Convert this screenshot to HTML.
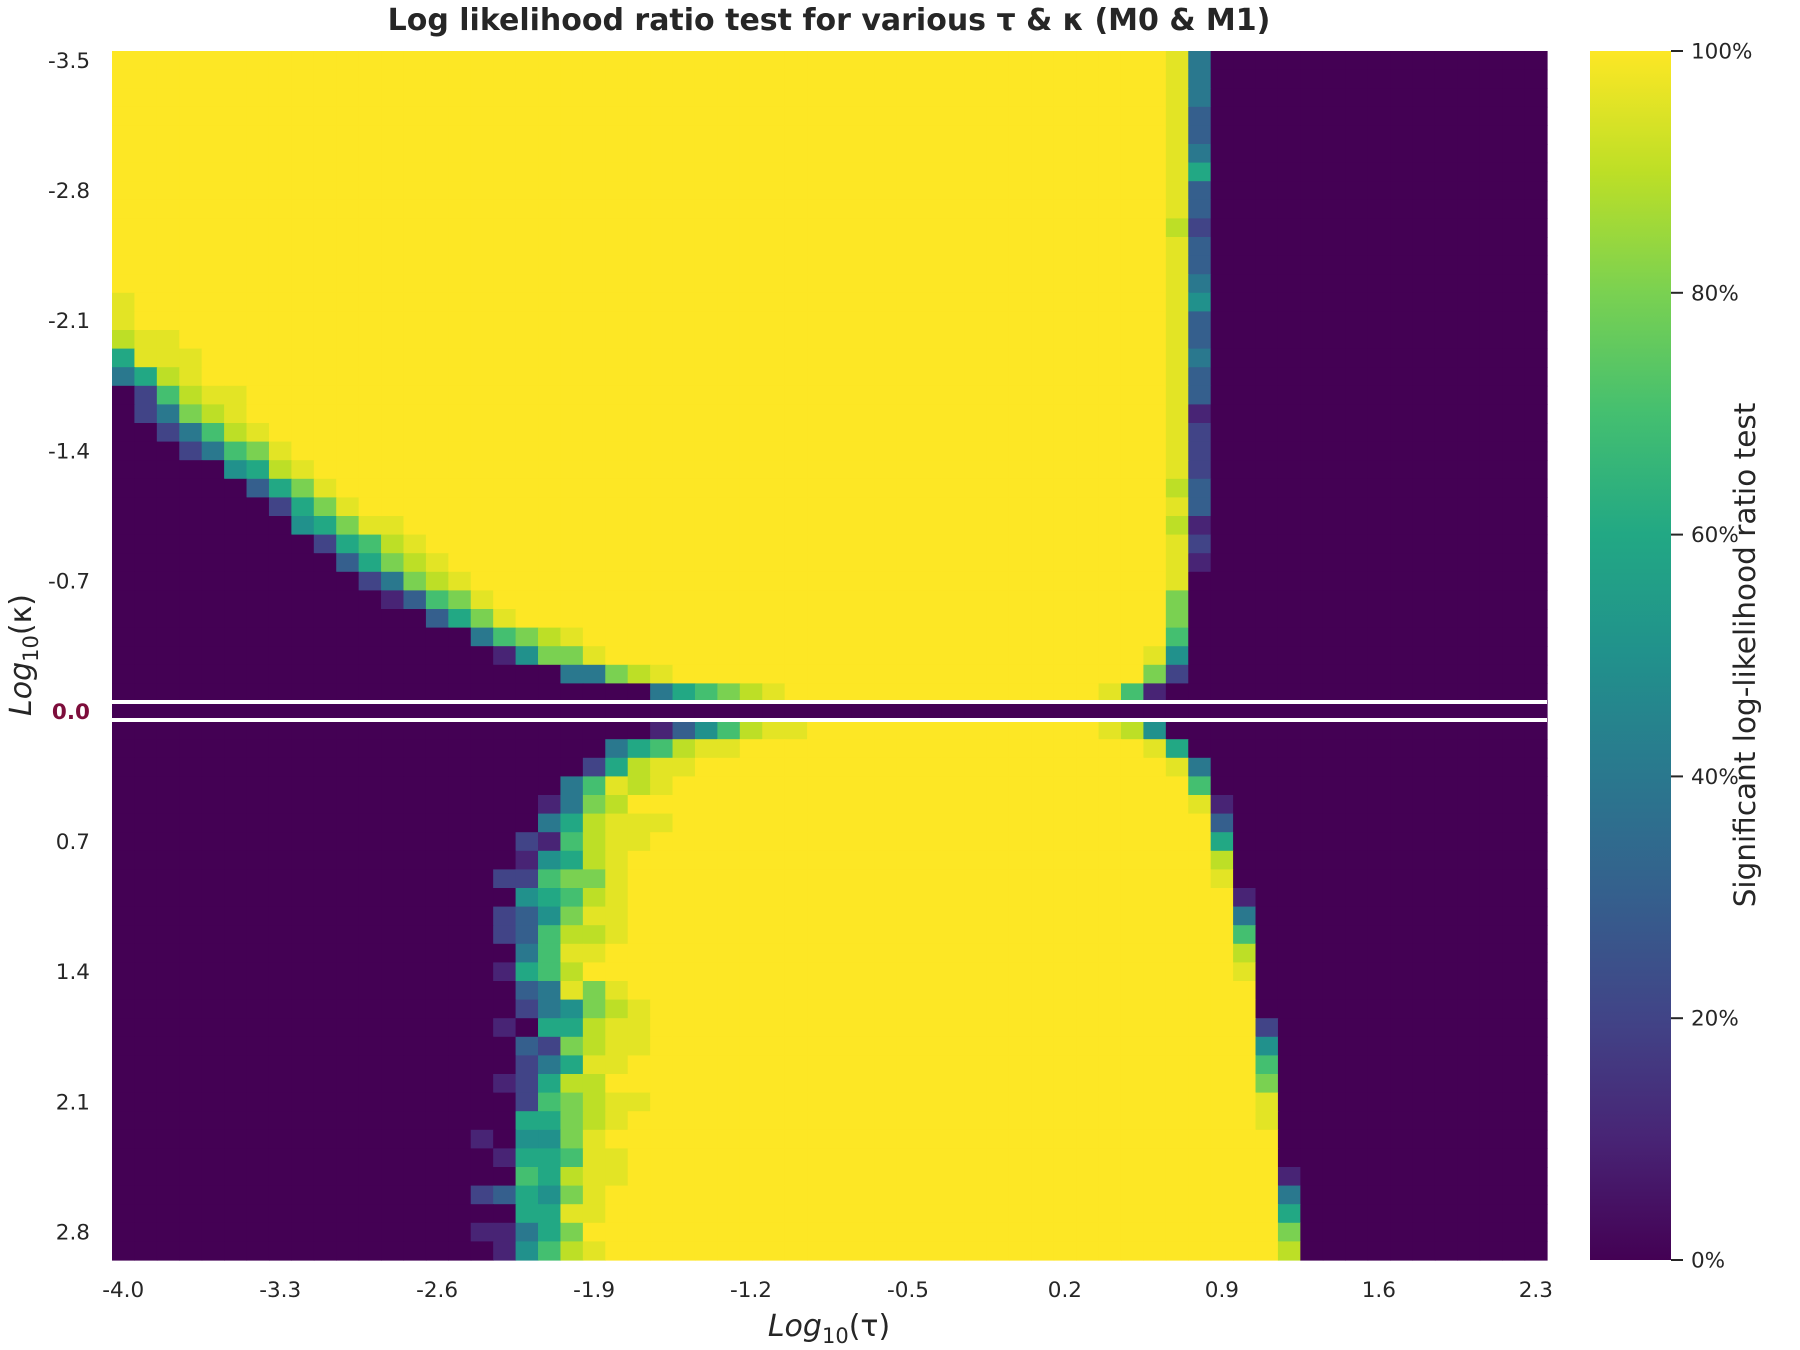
<!DOCTYPE html>
<html><head><meta charset="utf-8">
<style>
html,body{margin:0;padding:0;background:#fff;}
svg{display:block;font-family:"DejaVu Sans","Liberation Sans",sans-serif;}
</style></head>
<body>
<svg id="chart" width="1800" height="1350" viewBox="0 0 1800 1350" xmlns="http://www.w3.org/2000/svg">
<defs>
<linearGradient id="vir" x1="0" y1="1" x2="0" y2="0">
<stop offset="0" stop-color="#440154"/><stop offset="0.1" stop-color="#482475"/>
<stop offset="0.2" stop-color="#414487"/><stop offset="0.3" stop-color="#355f8d"/>
<stop offset="0.4" stop-color="#2a788e"/><stop offset="0.5" stop-color="#21918c"/>
<stop offset="0.6" stop-color="#22a884"/><stop offset="0.7" stop-color="#44bf70"/>
<stop offset="0.8" stop-color="#7ad151"/><stop offset="0.9" stop-color="#bddf26"/>
<stop offset="1" stop-color="#fde725"/>
</linearGradient>
</defs>
<text x="829" y="30" text-anchor="middle" font-size="30" font-weight="bold" fill="#262626">Log likelihood ratio test for various τ &amp; κ (M0 &amp; M1)</text>
<g id="cells"></g>
<rect x="112" y="700" width="1435" height="4" fill="#fff"/>
<rect x="112" y="718" width="1435" height="4" fill="#fff"/>
<g id="xticks"></g>
<g id="yticks"></g>
<text x="829" y="1336" text-anchor="middle" font-size="30" fill="#262626"><tspan font-style="italic">Log</tspan><tspan font-size="21" dy="7">10</tspan><tspan dy="-7">(τ)</tspan></text>
<text transform="translate(31,655) rotate(-90)" text-anchor="middle" font-size="30" fill="#262626"><tspan font-style="italic">Log</tspan><tspan font-size="21" dy="7">10</tspan><tspan dy="-7">(κ)</tspan></text>
<rect x="1590" y="51" width="81" height="1209" fill="url(#vir)"/>
<g id="cticks"></g>
<text transform="translate(1755,655) rotate(-90)" text-anchor="middle" font-size="29.5" fill="#262626">Significant log-likelihood ratio test</text>
</svg>
<script>
// Row data: tokens "c" or "c:N" (repeat). '0'..'9' = tenths, 'W' ~ 96%, 'X' = 100%.
const xTickLabels = ["-4.0","-3.3","-2.6","-1.9","-1.2","-0.5","0.2","0.9","1.6","2.3"];
const yTickLabels = ["-3.5","-2.8","-2.1","-1.4","-0.7","0.0","0.7","1.4","2.1","2.8"];
const cbTickLabels = ["0%","20%","40%","60%","80%","100%"];
const cbTickValues = [0,0.2,0.4,0.6,0.8,1.0];
const rows = [
"X:47 W 4 0:15","X:47 W 4 0:15","X:47 W 4 0:15","X:47 W 3 0:15","X:47 W 3 0:15",
"X:47 W 4 0:15","X:47 W 6 0:15","X:47 W 3 0:15","X:47 W 3 0:15","X:47 9 2 0:15",
"X:47 W 3 0:15","X:47 W 3 0:15","X:47 W 4 0:15",
"W X:46 W 5 0:15",
"W X:46 W 3 0:15",
"9 W W X:44 W 3 0:15",
"6 W:3 X:43 W 4 0:15",
"4 6 9 W X:43 W 3 0:15",
"0 2 7 9 W W X:41 W 3 0:15",
"0 2 4 8 9 W X:41 W 1 0:15",
"0:2 2 4 7 9 W X:40 W 2 0:15",
"0:3 2 4 7 8 W X:39 W 2 0:15",
"0:5 5 6 9 W X:38 W 2 0:15",
"0:6 3 6 8 W X:37 9 3 0:15",
"0:7 2 6 8 W X:36 W 3 0:15",
"0:8 5 6 8 W W X:34 9 1 0:15",
"0:9 2 6 7 9 W X:33 W 2 0:15",
"0:10 3 6 8 9 W X:32 W 1 0:15",
"0:11 2 4 8 9 W X:31 W 0 0:15",
"0:12 1 3 7 8 W X:30 8 0 0:15",
"0:14 3 6 8 W X:29 8 0:16",
"0:16 4 7 8 9 W X:26 7 0:16",
"0:17 1 5 8 8 W X:24 W 5 0:16",
"0:20 4 4 8 9 W X:21 8 2 0:16",
"0:24 4 6 7 8 9 W X:14 W 7 1 0:17",
"0:64",
"0:24 1 3 5 7 9 W W X:13 W 9 5 0:17",
"0:22 4 6 7 9 W W X:18 W 6 0:16",
"0:21 2 6 9 W W X:21 W 4 0:15",
"0:20 4 7 W 9 W X:23 7 0:15",
"0:19 1 4 8 9 X:25 W 1 0:14",
"0:19 4 6 9 W W W X:24 3 0:14",
"0:18 2 1 7 9 W W X:25 6 0:14",
"0:18 1 5 6 9 W X:26 9 0:14",
"0:17 2 2 7 8 8 W X:26 W 0:14",
"0:18 5 6 7 9 W X:27 1 0:13",
"0:17 2 3 5 8 W W X:27 4 0:13",
"0:17 2 3 7 9 9 W X:27 7 0:13",
"0:18 4 7 W W X:28 9 0:13",
"0:17 1 6 7 9 X:29 W 0:13",
"0:18 3 4 W 8 W X:28 0:13",
"0:18 2 4 5 8 9 W X:27 0:13",
"0:17 1 0 6 6 9 W W X:27 2 0:12",
"0:18 3 2 8 9 W W X:27 5 0:12",
"0:18 2 4 6 W W X:28 7 0:12",
"0:17 1 2 6 9 9 X:29 8 0:12",
"0:18 2 7 8 9 W W X:27 W 0:12",
"0:18 6 6 8 9 W X:28 W 0:12",
"0:16 1 0 5 5 8 W X:30 0:12",
"0:17 1 6 6 7 W W X:29 0:12",
"0:18 7 6 9 W W X:29 1 0:11",
"0:16 2 3 6 5 8 W X:30 4 0:11",
"0:18 6 6 W W X:30 6 0:11",
"0:16 1 1 4 6 8 X:31 8 0:11",
"0:17 1 5 7 9 W X:30 9 0:11"
];
const NS="http://www.w3.org/2000/svg";
const X0=112, X1=1547, Y0=51, Y1=1260, NC=64, NR=65;
const cw=(X1-X0)/NC, rh=(Y1-Y0)/NR;
const xPos=i=>X0+i*cw, yPos=j=>Y0+j*rh;
const vir=["#440154","#482475","#414487","#355f8d","#2a788e","#21918c","#22a884","#44bf70","#7ad151","#bddf26","#fde725"];
function hx(h){return [1,3,5].map(k=>parseInt(h.substr(k,2),16));}
function color(v){v=Math.max(0,Math.min(1,v));const t=v*10,i=Math.min(9,Math.floor(t)),f=t-i;
 const a=hx(vir[i]),b=hx(vir[i+1]);return "rgb("+a.map((c,k)=>Math.round(c+(b[k]-c)*f)).join(",")+")";}
function charVal(c){if(c==="X")return 1;if(c==="W")return 0.96;return parseInt(c,10)/10;}
function decode(s){const out=[];s.trim().split(/\s+/).forEach(t=>{const p=t.split(":");const n=p.length>1?parseInt(p[1],10):1;for(let k=0;k<n;k++)out.push(charVal(p[0]));});
 while(out.length<NC)out.push(0);return out.slice(0,NC);}
const g=document.getElementById("cells");
rows.forEach((s,j)=>{const vals=decode(s);vals.forEach((v,i)=>{
 const r=document.createElementNS(NS,"rect");
 
 
 r.setAttribute("x",xPos(i).toFixed(2));r.setAttribute("y",yPos(j).toFixed(2));
 r.setAttribute("width",(cw+0.6).toFixed(2));r.setAttribute("height",(rh+0.6).toFixed(2));
 r.setAttribute("fill",color(v));g.appendChild(r);});});
const xt=document.getElementById("xticks");
xTickLabels.forEach((l,k)=>{const t=document.createElementNS(NS,"text");
 
 
 t.setAttribute("x",(xPos(k*7)+cw/2).toFixed(1));t.setAttribute("y","1297");
 t.setAttribute("text-anchor","middle");t.setAttribute("font-size","21.5");t.setAttribute("fill","#262626");
 t.textContent=l;xt.appendChild(t);});
const yt=document.getElementById("yticks");
yTickLabels.forEach((l,k)=>{const t=document.createElementNS(NS,"text");
 
 
 t.setAttribute("x","90");t.setAttribute("y",(yPos(k*7)+rh/2+7.5).toFixed(1));
 t.setAttribute("text-anchor","end");t.setAttribute("font-size","21.5");
 if(l==="0.0"){t.setAttribute("fill","#7d0d3b");t.setAttribute("font-weight","bold");}else t.setAttribute("fill","#262626");
 t.textContent=l;yt.appendChild(t);});
const ct=document.getElementById("cticks");
cbTickValues.forEach((v,k)=>{const y=Y1-v*(Y1-Y0);
 const ln=document.createElementNS(NS,"line");
 
 
 ln.setAttribute("x1","1671");ln.setAttribute("x2","1683");ln.setAttribute("y1",y);ln.setAttribute("y2",y);
 ln.setAttribute("stroke","#262626");ln.setAttribute("stroke-width","2");ct.appendChild(ln);
 const t=document.createElementNS(NS,"text");
 
 
 t.setAttribute("x","1691");t.setAttribute("y",(y+7.5).toFixed(1));t.setAttribute("font-size","21.5");t.setAttribute("fill","#262626");
 t.textContent=cbTickLabels[k];ct.appendChild(t);});
</script>
</body></html>
